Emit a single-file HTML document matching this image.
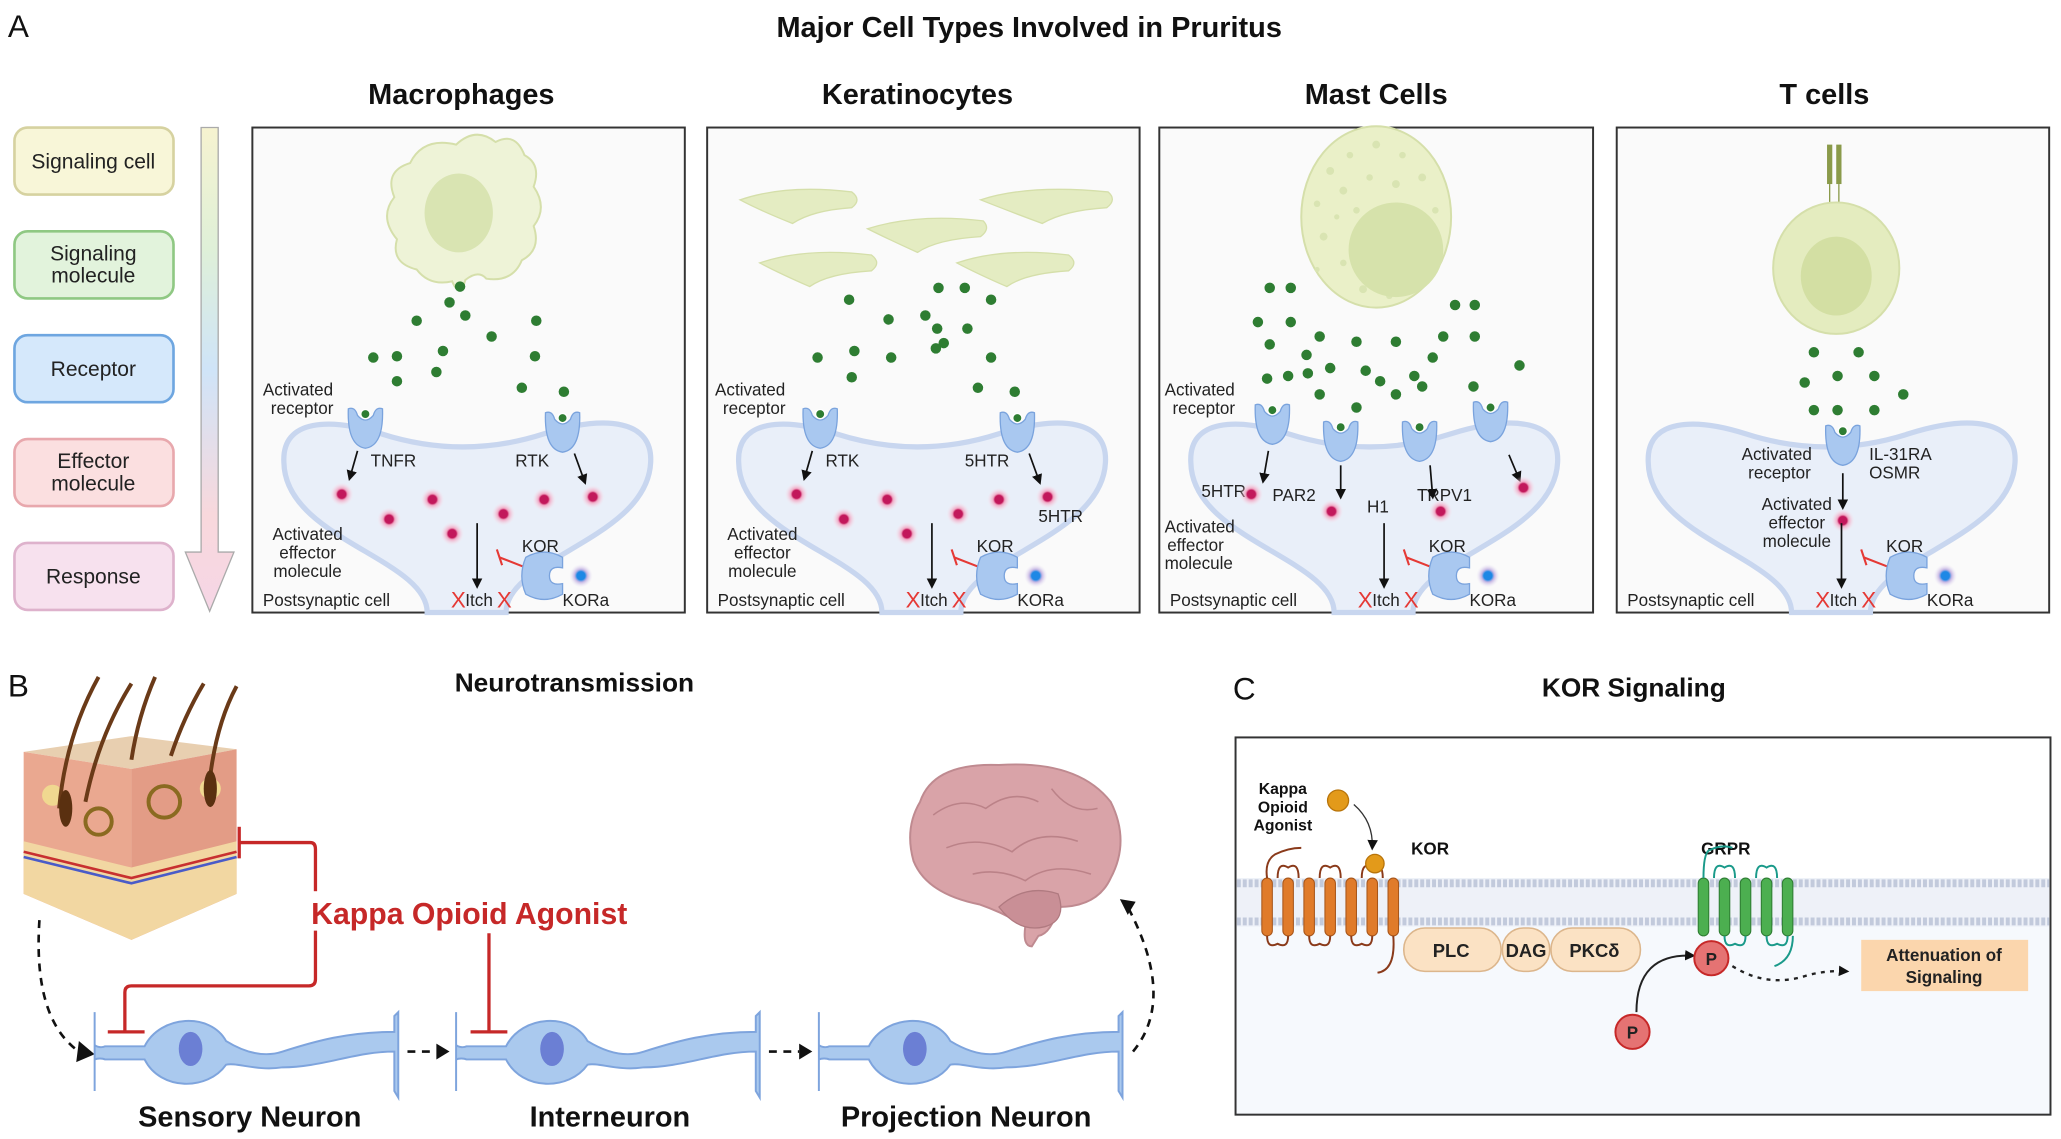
<!DOCTYPE html>
<html><head><meta charset="utf-8"><style>
html,body{margin:0;padding:0;background:#fff;}
svg{display:block;font-family:"Liberation Sans",sans-serif;}
.t{font-size:13px;fill:#222;}
.b{font-weight:bold;}
</style></head><body>
<svg width="2061" height="1139" viewBox="0 0 1568 866.5" xmlns="http://www.w3.org/2000/svg">
<defs>
<linearGradient id="lg" x1="0" y1="0" x2="0" y2="1">
<stop offset="0" stop-color="#f6f3d0"/><stop offset="0.25" stop-color="#dff0d8"/><stop offset="0.5" stop-color="#cfe4f8"/><stop offset="0.8" stop-color="#f8d8dc"/><stop offset="1" stop-color="#f6d6e6"/></linearGradient>
<radialGradient id="pg"><stop offset="0.35" stop-color="#c2185b"/><stop offset="0.5" stop-color="#f48fb1" stop-opacity="0.7"/><stop offset="1" stop-color="#fce4ec" stop-opacity="0"/></radialGradient>
<radialGradient id="bg"><stop offset="0.35" stop-color="#1e88e5"/><stop offset="0.55" stop-color="#b39ddb" stop-opacity="0.7"/><stop offset="1" stop-color="#ede7f6" stop-opacity="0"/></radialGradient>
<marker id="ah" markerWidth="8" markerHeight="8" refX="6" refY="4" orient="auto" markerUnits="userSpaceOnUse"><path d="M0,0 L8,4 L0,8 Z" fill="#111"/></marker>
<g id="pd"><circle r="9" fill="url(#pg)"/></g>
<g id="gd"><circle r="4" fill="#2e7d32"/></g>
<g id="rec"><path d="M-13,-14 Q-14,14 0,16 Q14,14 13,-14 Q8,-16 6,-9 Q0,-2 -6,-9 Q-8,-16 -13,-14 Z" fill="#a9c8f0" stroke="#7aa3dd" stroke-width="1"/><circle cx="0" cy="-10" r="3.5" fill="#2e7d32" stroke="#fff" stroke-width="1"/></g>
<g id="kor"><path d="M-14,-14 Q-20,0 -14,14 Q0,22 14,14 L14,6 Q4,8 4,0 Q4,-8 14,-6 L14,-14 Q0,-22 -14,-14 Z" fill="#a9c8f0" stroke="#7aa3dd"/></g>
<g id="post"><path d="M133,466 C133,425 25,410 24,352 C22,318 60,318 98,330 Q160,350 222,330 C270,315 305,320 303,352 C300,410 193,425 193,466 Z" fill="#e9eff9" stroke="#c8d6ef" stroke-width="4"/></g>
<g id="common">
<text class="t" x="8" y="461">Postsynaptic cell</text>
<line x1="171" y1="398" x2="171" y2="446" stroke="#111" stroke-width="1.3" marker-end="url(#ah)"/>
<text x="151" y="462" font-size="17" fill="#e53935">X</text><text class="t" x="162" y="461">Itch</text><text x="186" y="462" font-size="17" fill="#e53935">X</text>
<line x1="206" y1="431" x2="188" y2="424" stroke="#e53935" stroke-width="1.6"/><line x1="186" y1="418" x2="190" y2="430" stroke="#e53935" stroke-width="1.6"/>
<use href="#kor" x="222" y="438"/>
<text class="t" x="205" y="420">KOR</text>
<circle cx="250" cy="438" r="9" fill="url(#bg)"/>
<text class="t" x="236" y="461">KORa</text>
</g>
</defs>

<text x="6" y="28" font-size="24" fill="#111">A</text>
<text x="783" y="28" font-size="22" class="b" text-anchor="middle" fill="#111">Major Cell Types Involved in Pruritus</text>

<g font-size="16" fill="#222" text-anchor="middle">
<rect x="11" y="97" width="121" height="51" rx="10" fill="#f8f6d8" stroke="#d6d2a0" stroke-width="2"/><text x="71" y="128">Signaling cell</text>
<rect x="11" y="176" width="121" height="51" rx="10" fill="#e2f3dc" stroke="#8fc883" stroke-width="2"/><text x="71" y="198">Signaling</text><text x="71" y="215">molecule</text>
<rect x="11" y="255" width="121" height="51" rx="10" fill="#d5e8fb" stroke="#6ea6e0" stroke-width="2"/><text x="71" y="286">Receptor</text>
<rect x="11" y="334" width="121" height="51" rx="10" fill="#fbdfe0" stroke="#e8a8ad" stroke-width="2"/><text x="71" y="356">Effector</text><text x="71" y="373">molecule</text>
<rect x="11" y="413" width="121" height="51" rx="10" fill="#f7e1ee" stroke="#deb2cc" stroke-width="2"/><text x="71" y="444">Response</text>
</g>
<path d="M153,97 L166,97 L166,420 L178,420 L159.5,465 L141,420 L153,420 Z" fill="url(#lg)" stroke="#aaa" stroke-width="1"/>

<g font-size="22" class="b" text-anchor="middle" fill="#111">
<text x="351" y="79">Macrophages</text><text x="698" y="79">Keratinocytes</text><text x="1047" y="79">Mast Cells</text><text x="1388" y="79">T cells</text>
</g>

<g transform="translate(192,0)">
<rect x="0" y="97" width="329" height="369" fill="#fafafa" stroke="#333" stroke-width="1.5"/>
<use href="#post"/>
<path d="M155,110 Q170,96 185,108 Q200,100 207,118 Q220,125 214,142 Q225,158 214,172 Q220,190 205,198 Q198,215 178,212 Q172,205 162,213 Q158,228 152,214 Q135,218 125,205 Q105,200 110,182 Q96,165 108,150 Q100,130 120,124 Q130,104 155,110 Z" fill="#eef3d7" stroke="#d5dfaa" stroke-width="1.5"/>
<ellipse cx="157" cy="162" rx="26" ry="30" fill="#d9e4b2"/>
<use href="#gd" x="158" y="218"/><use href="#gd" x="150" y="230"/><use href="#gd" x="162" y="240"/><use href="#gd" x="125" y="244"/><use href="#gd" x="216" y="244"/><use href="#gd" x="182" y="256"/><use href="#gd" x="110" y="271"/><use href="#gd" x="145" y="267"/><use href="#gd" x="140" y="283"/><use href="#gd" x="92" y="272"/><use href="#gd" x="215" y="271"/><use href="#gd" x="110" y="290"/><use href="#gd" x="205" y="295"/><use href="#gd" x="237" y="298"/>
<use href="#rec" x="86" y="325"/><use href="#rec" x="236" y="328"/>
<text class="t" x="8" y="301">Activated</text><text class="t" x="14" y="315">receptor</text>
<text class="t" x="90" y="355">TNFR</text><text class="t" x="200" y="355">RTK</text>
<line x1="80" y1="343" x2="74" y2="364" stroke="#111" stroke-width="1.3" marker-end="url(#ah)"/>
<line x1="245" y1="345" x2="253" y2="367" stroke="#111" stroke-width="1.3" marker-end="url(#ah)"/>
<use href="#pd" x="68" y="376"/><use href="#pd" x="104" y="395"/><use href="#pd" x="137" y="380"/><use href="#pd" x="152" y="406"/><use href="#pd" x="191" y="391"/><use href="#pd" x="222" y="380"/><use href="#pd" x="259" y="378"/>
<text class="t" x="42" y="411" text-anchor="middle">Activated</text><text class="t" x="42" y="425" text-anchor="middle">effector</text><text class="t" x="42" y="439" text-anchor="middle">molecule</text>
<use href="#common"/>
</g>

<g transform="translate(538,0)">
<rect x="0" y="97" width="329" height="369" fill="#fafafa" stroke="#333" stroke-width="1.5"/>
<use href="#post"/>
<g fill="#e4ecc2" stroke="#d5dfaa">
<path d="M25,152 Q60,140 110,146 Q118,152 110,158 Q80,160 65,170 Q40,160 25,152 Z"/>
<path d="M122,174 Q160,162 210,168 Q216,174 208,180 Q175,182 160,192 Q138,182 122,174 Z"/>
<path d="M208,152 Q245,140 305,146 Q312,152 304,158 Q272,160 255,170 Q228,160 208,152 Z"/>
<path d="M40,200 Q75,188 125,194 Q133,200 125,206 Q92,208 78,218 Q55,208 40,200 Z"/>
<path d="M190,200 Q225,188 275,194 Q283,200 275,206 Q242,208 228,218 Q205,208 190,200 Z"/>
</g>
<use href="#gd" x="176" y="219"/><use href="#gd" x="196" y="219"/><use href="#gd" x="108" y="228"/><use href="#gd" x="216" y="228"/><use href="#gd" x="138" y="243"/><use href="#gd" x="166" y="240"/><use href="#gd" x="175" y="250"/><use href="#gd" x="198" y="250"/><use href="#gd" x="180" y="261"/><use href="#gd" x="174" y="265"/><use href="#gd" x="84" y="272"/><use href="#gd" x="112" y="267"/><use href="#gd" x="140" y="272"/><use href="#gd" x="110" y="287"/><use href="#gd" x="216" y="272"/><use href="#gd" x="206" y="295"/><use href="#gd" x="234" y="298"/>
<use href="#rec" x="86" y="325"/><use href="#rec" x="236" y="328"/>
<text class="t" x="6" y="301">Activated</text><text class="t" x="12" y="315">receptor</text>
<text class="t" x="90" y="355">RTK</text><text class="t" x="196" y="355">5HTR</text>
<line x1="80" y1="343" x2="74" y2="364" stroke="#111" stroke-width="1.3" marker-end="url(#ah)"/>
<line x1="245" y1="345" x2="253" y2="367" stroke="#111" stroke-width="1.3" marker-end="url(#ah)"/>
<text class="t" x="252" y="397">5HTR</text>
<use href="#pd" x="68" y="376"/><use href="#pd" x="104" y="395"/><use href="#pd" x="137" y="380"/><use href="#pd" x="152" y="406"/><use href="#pd" x="191" y="391"/><use href="#pd" x="222" y="380"/><use href="#pd" x="259" y="378"/>
<text class="t" x="42" y="411" text-anchor="middle">Activated</text><text class="t" x="42" y="425" text-anchor="middle">effector</text><text class="t" x="42" y="439" text-anchor="middle">molecule</text>
<use href="#common"/>
</g>

<g transform="translate(882,0)">
<rect x="0" y="97" width="330" height="369" fill="#fafafa" stroke="#333" stroke-width="1.5"/>
<use href="#post"/>
<ellipse cx="165" cy="165" rx="57" ry="69" fill="#eaf0c8" stroke="#d5dfaa" stroke-width="1.5"/>
<g fill="#d9e4b2">
<circle cx="130" cy="130" r="3"/><circle cx="145" cy="118" r="2.5"/><circle cx="165" cy="110" r="3"/><circle cx="185" cy="118" r="2.5"/><circle cx="200" cy="135" r="3"/><circle cx="120" cy="155" r="2.5"/><circle cx="140" cy="145" r="3"/><circle cx="160" cy="135" r="2.5"/><circle cx="180" cy="140" r="3"/><circle cx="125" cy="180" r="3"/><circle cx="140" cy="200" r="2.5"/><circle cx="155" cy="220" r="3"/><circle cx="135" cy="165" r="2"/><circle cx="150" cy="160" r="2.5"/><circle cx="210" cy="160" r="2.5"/><circle cx="120" cy="205" r="2"/><circle cx="175" cy="225" r="2.5"/><circle cx="200" cy="215" r="2"/>
</g>
<circle cx="180" cy="190" r="36" fill="#d6e2ab"/>
<use href="#gd" x="84" y="219"/><use href="#gd" x="100" y="219"/><use href="#gd" x="225" y="232"/><use href="#gd" x="240" y="232"/><use href="#gd" x="75" y="245"/><use href="#gd" x="100" y="245"/><use href="#gd" x="216" y="256"/><use href="#gd" x="240" y="256"/><use href="#gd" x="84" y="262"/><use href="#gd" x="122" y="256"/><use href="#gd" x="150" y="260"/><use href="#gd" x="180" y="260"/><use href="#gd" x="208" y="272"/><use href="#gd" x="112" y="270"/><use href="#gd" x="82" y="288"/><use href="#gd" x="98" y="286"/><use href="#gd" x="113" y="284"/><use href="#gd" x="130" y="280"/><use href="#gd" x="157" y="282"/><use href="#gd" x="168" y="290"/><use href="#gd" x="194" y="286"/><use href="#gd" x="122" y="300"/><use href="#gd" x="150" y="310"/><use href="#gd" x="180" y="300"/><use href="#gd" x="200" y="294"/><use href="#gd" x="274" y="278"/><use href="#gd" x="239" y="294"/>
<use href="#rec" x="86" y="322"/><use href="#rec" x="138" y="335"/><use href="#rec" x="198" y="335"/><use href="#rec" x="252" y="320"/>
<text class="t" x="4" y="301">Activated</text><text class="t" x="10" y="315">receptor</text>
<text class="t" x="32" y="378">5HTR</text><text class="t" x="86" y="381">PAR2</text><text class="t" x="158" y="390">H1</text><text class="t" x="196" y="381">TRPV1</text>
<line x1="83" y1="343" x2="79" y2="366" stroke="#111" stroke-width="1.3" marker-end="url(#ah)"/>
<line x1="138" y1="354" x2="138" y2="378" stroke="#111" stroke-width="1.3" marker-end="url(#ah)"/>
<line x1="206" y1="354" x2="208" y2="378" stroke="#111" stroke-width="1.3" marker-end="url(#ah)"/>
<line x1="266" y1="346" x2="274" y2="365" stroke="#111" stroke-width="1.3" marker-end="url(#ah)"/>
<use href="#pd" x="70" y="376"/><use href="#pd" x="131" y="389"/><use href="#pd" x="214" y="389"/><use href="#pd" x="277" y="371"/>
<text class="t" x="4" y="405">Activated</text><text class="t" x="6" y="419">effector</text><text class="t" x="4" y="433">molecule</text>
<use href="#common"/>
</g>

<g transform="translate(1230,0)">
<rect x="0" y="97" width="329" height="369" fill="#fafafa" stroke="#333" stroke-width="1.5"/>
<use href="#post"/>
<rect x="160" y="110" width="4" height="30" fill="#8a9a4a"/><rect x="167" y="110" width="4" height="30" fill="#8a9a4a"/>
<line x1="162" y1="140" x2="162" y2="166" stroke="#8a9a4a" stroke-width="1"/><line x1="169" y1="140" x2="169" y2="166" stroke="#8a9a4a" stroke-width="1"/>
<ellipse cx="167" cy="204" rx="48" ry="50" fill="#e4ecbf" stroke="#d5dfaa" stroke-width="1.5"/>
<ellipse cx="167" cy="210" rx="27" ry="30" fill="#d3dfa3"/>
<use href="#gd" x="150" y="268"/><use href="#gd" x="184" y="268"/><use href="#gd" x="143" y="291"/><use href="#gd" x="168" y="286"/><use href="#gd" x="196" y="286"/><use href="#gd" x="218" y="300"/><use href="#gd" x="150" y="312"/><use href="#gd" x="168" y="312"/><use href="#gd" x="196" y="312"/>
<use href="#rec" x="172" y="338"/>
<text class="t" x="95" y="350">Activated</text><text class="t" x="100" y="364">receptor</text>
<text class="t" x="192" y="350">IL-31RA</text><text class="t" x="192" y="364">OSMR</text>
<line x1="172" y1="360" x2="172" y2="386" stroke="#111" stroke-width="1.3" marker-end="url(#ah)"/>
<use href="#pd" x="172" y="396"/>
<text class="t" x="137" y="388" text-anchor="middle">Activated</text><text class="t" x="137" y="402" text-anchor="middle">effector</text><text class="t" x="137" y="416" text-anchor="middle">molecule</text>
<use href="#common"/>
</g>

<text x="6" y="530" font-size="24" fill="#111">B</text>
<text x="437" y="526" font-size="20" class="b" text-anchor="middle" fill="#111">Neurotransmission</text>
<g>
<polygon points="18,572 100,560 180,570 100,585" fill="#e8cfb0"/>
<polygon points="18,572 100,585 100,715 18,680" fill="#eaa890"/>
<polygon points="100,585 180,570 180,680 100,715" fill="#e39c86"/>
<polygon points="18,640 100,660 180,640 180,680 100,715 18,680" fill="#f2d7a2"/>
<path d="M18,648 L100,668 L180,648" stroke="#c83030" stroke-width="2" fill="none"/>
<path d="M18,652 L100,672 L180,652" stroke="#4a5bc8" stroke-width="2" fill="none"/>
<circle cx="75" cy="625" r="10" fill="none" stroke="#8a6a20" stroke-width="3"/><circle cx="125" cy="610" r="12" fill="none" stroke="#8a6a20" stroke-width="3"/><circle cx="40" cy="605" r="8" fill="#f0d890"/><circle cx="160" cy="600" r="8" fill="#f0d890"/>
<g stroke="#6a3a18" stroke-width="3" fill="none"><path d="M45,615 Q50,560 75,515"/><path d="M65,610 Q75,560 100,520"/><path d="M100,578 Q105,545 118,515"/><path d="M130,575 Q140,545 155,520"/><path d="M160,590 Q165,550 180,522"/></g>
<ellipse cx="50" cy="615" rx="5" ry="14" fill="#5a3010"/><ellipse cx="160" cy="600" rx="5" ry="14" fill="#5a3010"/>
</g>
<g stroke="#c62828" stroke-width="2.5" fill="none">
<line x1="182" y1="629" x2="182" y2="653"/><path d="M182,641 L236,641 Q240,641 240,646 L240,745 Q240,750 235,750 L100,750 Q95,750 95,755 L95,785"/><line x1="82" y1="785" x2="110" y2="785"/>
<line x1="372" y1="710" x2="372" y2="785"/><line x1="358" y1="785" x2="386" y2="785"/>
</g>
<rect x="228" y="678" width="260" height="30" fill="#fff"/>
<text x="357" y="703" font-size="23" class="b" fill="#c62828" text-anchor="middle">Kappa Opioid Agonist</text>
<g stroke="#111" stroke-width="2" fill="none" stroke-dasharray="6,5">
<path d="M30,700 Q25,775 60,800"/><line x1="310" y1="800" x2="332" y2="800"/><line x1="585" y1="800" x2="608" y2="800"/><path d="M862,800 Q895,760 858,690"/>
</g>
<g fill="#111"><path d="M60,792 L72,802 L58,808 Z"/><path d="M332,794 L342,800 L332,806 Z"/><path d="M608,794 L618,800 L608,806 Z"/><path d="M852,684 L864,686 L858,696 Z"/></g>
<g id="neuron">
<path d="M72,770 L72,830 M72,795 C74,797 78,797 80,796 L110,796 C122,772 160,770 172,792 C185,800 200,805 215,800 C240,792 265,785 300,785 L300,773 L303,770 L303,835 L300,830 L300,800 C270,800 245,812 215,812 C195,815 180,808 172,810 C158,830 122,830 110,806 L80,806 C78,805 74,805 72,806" fill="#aac9ee" stroke="#7ea4dd" stroke-width="1.5"/>
<ellipse cx="145" cy="798" rx="9" ry="13" fill="#6b7fd4"/>
</g>
<use href="#neuron" x="275"/><use href="#neuron" x="551"/>
<g font-size="22" class="b" text-anchor="middle" fill="#111"><text x="190" y="857">Sensory Neuron</text><text x="464" y="857">Interneuron</text><text x="735" y="857">Projection Neuron</text></g>
<g>
<path d="M700,610 Q710,580 760,582 Q820,578 845,610 Q860,640 845,668 Q835,690 805,690 Q800,710 790,712 L785,720 Q778,720 780,705 Q765,695 745,688 Q705,680 695,655 Q688,630 700,610 Z" fill="#d9a3a8" stroke="#bf8a90" stroke-width="1.5"/>
<path d="M760,690 Q780,672 805,680 Q812,700 795,705 Q775,710 760,690 Z" fill="#c98f96" stroke="#b07a80"/>
<g stroke="#bb8288" stroke-width="1.2" fill="none"><path d="M710,620 Q730,605 750,615 Q770,600 790,610"/><path d="M720,645 Q745,635 770,648 Q790,630 820,640"/><path d="M800,600 Q815,620 835,615"/><path d="M740,665 Q760,660 780,670 Q800,655 830,665"/></g>
</g>

<text x="938" y="532" font-size="24" fill="#111">C</text>
<text x="1243" y="530" font-size="20" class="b" text-anchor="middle" fill="#111">KOR Signaling</text>
<rect x="940" y="561" width="620" height="287" fill="#f6f9fd" stroke="#333" stroke-width="1.5"/>
<rect x="941" y="562" width="618" height="106" fill="#fff"/>
<rect x="941" y="668" width="618" height="37" fill="#eef1f8"/>
<line x1="941" y1="672" x2="1559" y2="672" stroke="#c2cadc" stroke-width="6" stroke-dasharray="3,1.5"/>
<line x1="941" y1="701" x2="1559" y2="701" stroke="#c2cadc" stroke-width="6" stroke-dasharray="3,1.5"/>
<g fill="#e07b2a" stroke="#a8561a" stroke-width="0.8">
<rect x="960" y="668" width="8" height="44" rx="4"/><rect x="976" y="668" width="8" height="44" rx="4"/><rect x="992" y="668" width="8" height="44" rx="4"/><rect x="1008" y="668" width="8" height="44" rx="4"/><rect x="1024" y="668" width="8" height="44" rx="4"/><rect x="1040" y="668" width="8" height="44" rx="4"/><rect x="1056" y="668" width="8" height="44" rx="4"/>
</g>
<path d="M990,645 Q980,645 970,650 Q962,655 964,668 M972,668 Q972,655 980,660 Q988,655 988,668 M1004,668 Q1004,655 1012,660 Q1020,655 1020,668 M1036,668 Q1036,655 1044,660 Q1052,655 1052,668 M964,712 Q964,722 972,718 Q980,722 980,712 M996,712 Q996,722 1004,718 Q1012,722 1012,712 M1028,712 Q1028,722 1036,718 Q1044,722 1044,712 M1060,712 Q1062,738 1048,740" stroke="#8a3a1a" stroke-width="1.5" fill="none"/>
<circle cx="1018" cy="609" r="8" fill="#e39a1a" stroke="#b8740a"/><circle cx="1046" cy="657" r="7" fill="#e39a1a" stroke="#b8740a"/>
<path d="M1030,612 Q1045,625 1044,645" stroke="#333" stroke-width="1" fill="none" marker-end="url(#ah)"/>
<g font-size="12" class="b" fill="#111" text-anchor="middle"><text x="976" y="604">Kappa</text><text x="976" y="618">Opioid</text><text x="976" y="632">Agonist</text></g>
<text x="1088" y="650" font-size="13" class="b" fill="#111" text-anchor="middle">KOR</text>
<text x="1313" y="650" font-size="13" class="b" fill="#111" text-anchor="middle">GRPR</text>
<g fill="#fbe2c4" stroke="#dcb68c" stroke-width="1.2">
<rect x="1068" y="706" width="74" height="33" rx="16"/><rect x="1143" y="706" width="36" height="33" rx="16"/><rect x="1180" y="706" width="68" height="33" rx="16"/>
</g>
<g font-size="14" class="b" fill="#222" text-anchor="middle"><text x="1104" y="728">PLC</text><text x="1161" y="728">DAG</text><text x="1213" y="728">PKCδ</text></g>
<g fill="#4caf50" stroke="#2e7d32" stroke-width="0.8">
<rect x="1292" y="668" width="8" height="44" rx="4"/><rect x="1308" y="668" width="8" height="44" rx="4"/><rect x="1324" y="668" width="8" height="44" rx="4"/><rect x="1340" y="668" width="8" height="44" rx="4"/><rect x="1356" y="668" width="8" height="44" rx="4"/>
</g>
<path d="M1300,647 Q1310,642 1318,645 M1296,668 Q1296,650 1300,647 M1304,668 Q1304,655 1312,660 Q1320,655 1320,668 M1336,668 Q1336,655 1344,660 Q1352,655 1352,668 M1312,712 Q1312,722 1320,718 Q1328,722 1328,712 M1344,712 Q1344,722 1352,718 Q1360,722 1360,712 M1364,712 Q1364,730 1350,735" stroke="#1a9a8a" stroke-width="1.5" fill="none"/>
<path d="M1245,770 Q1245,725 1288,727" stroke="#222" stroke-width="1.5" fill="none" marker-end="url(#ah)"/>
<path d="M1318,735 Q1345,752 1375,742 Q1390,738 1405,739" stroke="#222" stroke-width="1.8" fill="none" stroke-dasharray="3,4" marker-end="url(#ah)"/>
<circle cx="1302" cy="729" r="13" fill="#e57373" stroke="#c62828" stroke-width="1.5"/><text x="1302" y="734" font-size="13" class="b" text-anchor="middle" fill="#222">P</text>
<circle cx="1242" cy="785" r="13" fill="#e57373" stroke="#c62828" stroke-width="1.5"/><text x="1242" y="790" font-size="13" class="b" text-anchor="middle" fill="#222">P</text>
<rect x="1416" y="715" width="127" height="39" fill="#fbd6ad"/>
<g font-size="13" class="b" fill="#222" text-anchor="middle"><text x="1479" y="731">Attenuation of</text><text x="1479" y="748">Signaling</text></g>
</svg>
</body></html>
